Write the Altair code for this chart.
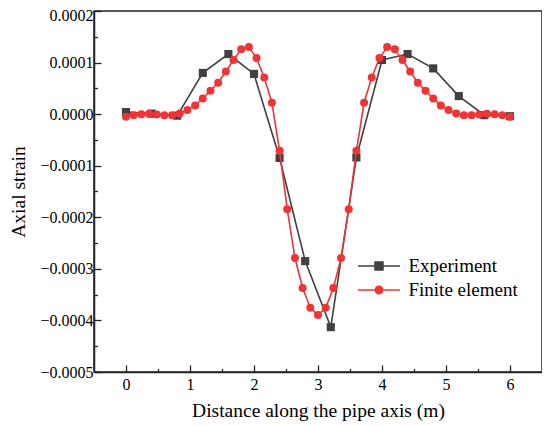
import altair as alt
import pandas as pd

# ---------------- data ----------------
exp_x = [0.0, 0.4, 0.8, 1.2, 1.6, 2.0, 2.4, 2.8, 3.2, 3.6, 4.0, 4.4, 4.8, 5.2, 5.6, 6.0]
exp_y = [4.0e-6, 1.0e-6, -3.0e-6, 8.0e-5, 1.165e-4, 7.8e-5, -8.5e-5, -2.85e-4,
         -4.13e-4, -8.4e-5, 1.05e-4, 1.165e-4, 8.87e-5, 3.5e-5, -2.0e-6, -4.0e-6]

fe_x = [0.00, 0.12, 0.24, 0.36, 0.48, 0.60, 0.72, 0.84, 0.96, 1.08,
        1.20, 1.32, 1.44, 1.56, 1.68, 1.80, 1.92, 2.04, 2.16, 2.28,
        2.40, 2.52, 2.64, 2.76, 2.88, 3.00, 3.12, 3.24, 3.36, 3.48,
        3.60, 3.72, 3.84, 3.96, 4.08, 4.20, 4.32, 4.44, 4.56, 4.68,
        4.80, 4.92, 5.04, 5.16, 5.28, 5.40, 5.52, 5.64, 5.76, 5.88, 6.00]
fe_y = [-5.2e-6, -2.0e-6, 0.0, 1.0e-6, -0.6e-6, -2.0e-6, -2.0e-6, 1.3e-6, 7.8e-6, 1.68e-5,
        3.04e-5, 4.53e-5, 6.09e-5, 8.28e-5, 1.05e-4, 1.256e-4, 1.30e-4, 1.087e-4, 7.12e-5, 2.2e-5,
        -7.12e-5, -1.845e-4, -2.79e-4, -3.37e-4, -3.754e-4, -3.897e-4, -3.754e-4, -3.37e-4, -2.79e-4, -1.845e-4,
        -7.12e-5, 2.2e-5, 7.12e-5, 1.087e-4, 1.30e-4, 1.256e-4, 1.05e-4, 8.28e-5, 6.09e-5, 4.53e-5,
        3.04e-5, 1.68e-5, 7.8e-6, 1.3e-6, -2.0e-6, -2.0e-6, -0.6e-6, 1.0e-6, 0.0, -2.0e-6, -5.2e-6]

series_names = ["Experiment", "Finite element"]
series_colors = ["#404040", "#EE3434"]

x_major = [0, 1, 2, 3, 4, 5, 6]
x_minor = [0.5, 1.5, 2.5, 3.5, 4.5, 5.5]
y_major = [-0.0005, -0.0004, -0.0003, -0.0002, -0.0001, 0.0, 0.0001, 0.0002]
y_minor = [-0.00045, -0.00035, -0.00025, -0.00015, -0.00005, 0.00005, 0.00015]

x_title = "Distance along the pipe axis (m)"
y_title = "Axial strain"

# ---------------- build ----------------
FONT = "Liberation Serif"
exp_df = pd.DataFrame({"x": exp_x, "y": exp_y})
fe_df = pd.DataFrame({"x": fe_x, "y": fe_y})
leg_df = pd.DataFrame({"series": series_names})

xscale = alt.Scale(domain=[-0.5, 6.5], nice=False, zero=False)
yscale = alt.Scale(domain=[-0.0005, 0.0002], nice=False, zero=False)

x_axis_major = alt.Axis(
    orient="bottom", values=x_major, format=".0f", title=x_title,
    tickSize={"expr": "-7"}, tickColor="#222", tickWidth=1.3,
    domainColor="#222", domainWidth=1.5, grid=False,
    labelFont=FONT, labelFontSize=16, labelColor="black", labelPadding=11,
    titleFont=FONT, titleFontSize=19.5, titleFontWeight="normal", titleColor="black",
    titlePadding=9,
)
y_axis_major = alt.Axis(
    orient="left", values=y_major, format=".4f", title=y_title,
    tickSize={"expr": "-7"}, tickColor="#222", tickWidth=1.3,
    domainColor="#222", domainWidth=1.5, grid=False,
    labelFont=FONT, labelFontSize=16, labelColor="black", labelPadding=8,
    labelOffset={"condition": {"test": "datum.value > 0.00015", "value": 4}, "value": 0},
    titleFont=FONT, titleFontSize=19.5, titleFontWeight="normal", titleColor="black",
    titlePadding=11,
)
x_axis_minor = alt.Axis(
    orient="bottom", values=x_minor, labels=False, title=None, domain=False,
    tickSize={"expr": "-3.5"}, tickColor="#222", tickWidth=1.3, grid=False,
)
y_axis_minor = alt.Axis(
    orient="left", values=y_minor, labels=False, title=None, domain=False,
    tickSize={"expr": "-3.5"}, tickColor="#222", tickWidth=1.3, grid=False,
)

def enc(axis_x=None, axis_y=None):
    return dict(
        x=alt.X("x:Q", scale=xscale, axis=axis_x),
        y=alt.Y("y:Q", scale=yscale, axis=axis_y),
    )

exp_line = alt.Chart(exp_df).mark_line(color=series_colors[0], strokeWidth=1.6).encode(
    **enc(x_axis_major, y_axis_major))
exp_pts = alt.Chart(exp_df).mark_point(shape="square", filled=True, opacity=1,
                                       color=series_colors[0], size=66).encode(**enc())
fe_line = alt.Chart(fe_df).mark_line(color=series_colors[1], strokeWidth=1.6).encode(**enc())
fe_pts = alt.Chart(fe_df).mark_point(shape="circle", filled=True, opacity=1,
                                     color=series_colors[1], size=64).encode(**enc())
minor = alt.Chart(fe_df).mark_point(opacity=0).encode(**enc(x_axis_minor, y_axis_minor))

# legend symbols: a line segment with the marker in the middle (box of 21 px, line 42 px)
path_sq = "M-2,0L2,0M-0.38,-0.38L0.38,-0.38L0.38,0.38L-0.38,0.38Z"
path_ci = "M-2,0L2,0M-0.36,0A0.36,0.36,0,1,0,0.36,0A0.36,0.36,0,1,0,-0.36,0Z"

leg = alt.Legend(orient="none", legendX=273.5, legendY=243.5, title=None,
                 symbolSize=441, symbolStrokeWidth=1.5, labelFont=FONT,
                 labelFontSize=19, labelColor="black", labelOffset=18,
                 rowPadding=2, padding=0)
legend_layer = alt.Chart(leg_df).transform_filter("false").mark_point(
    filled=True, opacity=1, size=441, strokeWidth=1.5).encode(
    shape=alt.Shape("series:N", scale=alt.Scale(domain=series_names, range=[path_sq, path_ci]), legend=leg),
    fill=alt.Fill("series:N", scale=alt.Scale(domain=series_names, range=series_colors), legend=leg),
    stroke=alt.Stroke("series:N", scale=alt.Scale(domain=series_names, range=series_colors), legend=leg),
)

chart = alt.layer(minor, exp_line, exp_pts, fe_line, fe_pts, legend_layer).resolve_axis(
    x="independent", y="independent"
).properties(
    width=448, height=361,
    autosize=alt.AutoSizeParams(type="none"),
    padding={"left": 86, "top": 3, "right": 0, "bottom": 50},
    background="white",
).configure_view(stroke="#222", strokeWidth=1.5).configure_axis(
    labelFont=FONT, titleFont=FONT
)

chart.save("out.html", embed_options={"renderer": "svg", "actions": False})
